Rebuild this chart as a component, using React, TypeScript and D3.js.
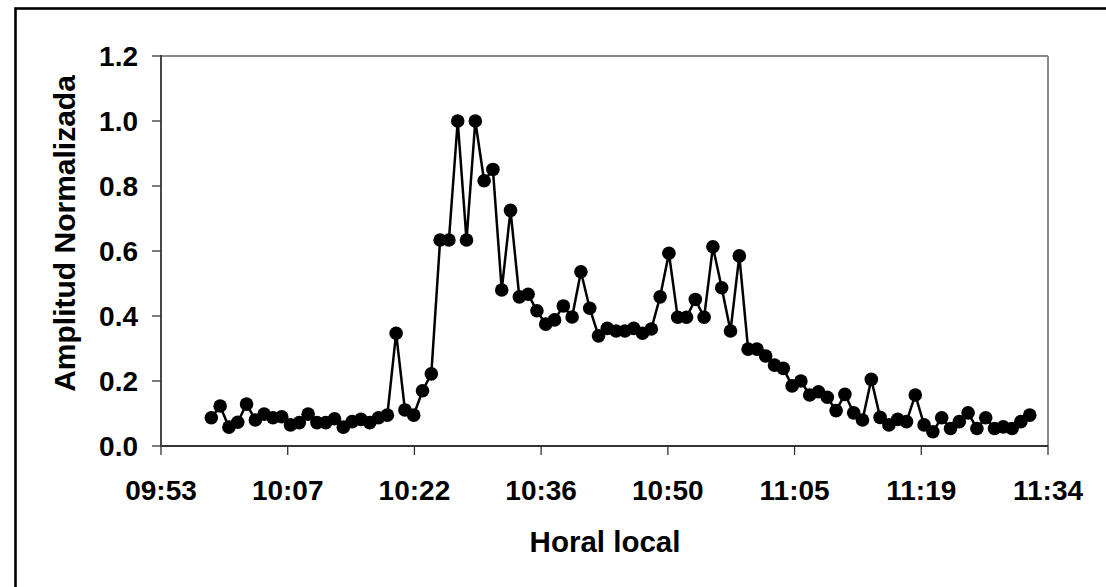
import React from "react";
import * as d3 from "d3";

const times: string[] = [
  "09:59","10:00","10:01","10:02","10:03","10:04","10:05","10:06","10:07","10:08",
  "10:09","10:10","10:11","10:12","10:13","10:14","10:15","10:16","10:17","10:18",
  "10:19","10:20","10:21","10:22","10:23","10:24","10:25","10:26","10:27","10:28",
  "10:29","10:30","10:31","10:32","10:33","10:34","10:35","10:36","10:37","10:38",
  "10:39","10:40","10:41","10:42","10:43","10:44","10:45","10:46","10:47","10:48",
  "10:49","10:50","10:51","10:52","10:53","10:54","10:55","10:56","10:57","10:58",
  "10:59","11:00","11:01","11:02","11:03","11:04","11:05","11:06","11:07","11:08",
  "11:09","11:10","11:11","11:12","11:13","11:14","11:15","11:16","11:17","11:18",
  "11:19","11:20","11:21","11:22","11:23","11:24","11:25","11:26","11:27","11:28",
  "11:29","11:30","11:31","11:32",
];

const amplitude: number[] = [
  0.087, 0.123, 0.058, 0.073, 0.129, 0.080, 0.098, 0.087, 0.090, 0.065,
  0.072, 0.098, 0.072, 0.072, 0.084, 0.058, 0.075, 0.082, 0.072, 0.087,
  0.095, 0.347, 0.111, 0.095, 0.170, 0.222, 0.634, 0.634, 1.0, 0.634,
  1.0, 0.816, 0.851, 0.480, 0.725, 0.459, 0.467, 0.416, 0.375, 0.388,
  0.431, 0.397, 0.536, 0.424, 0.339, 0.362, 0.354, 0.354, 0.362, 0.347,
  0.360, 0.459, 0.593, 0.396, 0.396, 0.451, 0.396, 0.613, 0.487, 0.354,
  0.585, 0.298, 0.298, 0.277, 0.249, 0.239, 0.185, 0.200, 0.157, 0.167,
  0.150, 0.109, 0.159, 0.102, 0.080, 0.205, 0.088, 0.065, 0.082, 0.075,
  0.157, 0.065, 0.044, 0.087, 0.054, 0.075, 0.102, 0.054, 0.087, 0.054,
  0.059, 0.054, 0.075, 0.095,
];

// Excel time-axis: day fractions
const xTickValues: number[] = [0.412, 0.422, 0.432, 0.442, 0.452, 0.462, 0.472, 0.482];
const xTickLabels: string[] = ["09:53", "10:07", "10:22", "10:36", "10:50", "11:05", "11:19", "11:34"];
const yTickValues: number[] = [0, 0.2, 0.4, 0.6, 0.8, 1.0, 1.2];

const W = 1106;
const H = 587;
const left = 161;
const right = 1048;
const top = 56;
const bottom = 446;
const FONT = "'Liberation Sans', Arial, Helvetica, sans-serif";

function toDayFraction(t: string): number {
  const [h, m] = t.split(":").map(Number);
  return (h * 60 + m) / 1440;
}

export default function App() {
  const x = d3.scaleLinear().domain([xTickValues[0], xTickValues[xTickValues.length - 1]]).range([left, right]);
  const y = d3.scaleLinear().domain([0, 1.2]).range([bottom, top]);

  const pts: [number, number][] = times.map((t, i) => [x(toDayFraction(t)), y(amplitude[i])]);
  const lineGen = d3.line<[number, number]>().x((d) => d[0]).y((d) => d[1]);

  return (
    <svg
      width={W}
      height={H}
      style={{ position: "absolute", left: 0, top: 0, background: "#fff" }}
      fontFamily={FONT}
    >
      <rect x={0} y={0} width={W} height={H} fill="#fff" />
      {/* outer border (extends beyond the view on right/bottom) */}
      <rect x={15.5} y={8.5} width={W + 20} height={H + 20} fill="none" stroke="#000" strokeWidth={2.6} />

      {/* plot area border */}
      <line x1={left} y1={top} x2={right} y2={top} stroke="#8a8a8a" strokeWidth={2} />
      <line x1={right} y1={top} x2={right} y2={bottom} stroke="#8a8a8a" strokeWidth={2} />

      {/* y axis */}
      <line x1={left} y1={top - 1} x2={left} y2={bottom} stroke="#333" strokeWidth={1.8} />
      {yTickValues.map((v) => (
        <g key={"y" + v}>
          <line x1={left - 9} x2={left} y1={y(v)} y2={y(v)} stroke="#333" strokeWidth={1.3} />
          <text
            x={138}
            y={y(v)}
            dy="0.36em"
            textAnchor="end"
            fontSize={28}
            fontWeight="bold"
            fill="#000"
          >
            {v.toFixed(1)}
          </text>
        </g>
      ))}

      {/* x axis */}
      <line x1={left} y1={bottom} x2={right} y2={bottom} stroke="#333" strokeWidth={1.8} />
      {xTickValues.map((v, i) => (
        <g key={"x" + v}>
          <line x1={x(v)} x2={x(v)} y1={bottom} y2={bottom + 9} stroke="#333" strokeWidth={1.3} />
          <text x={x(v)} y={500} textAnchor="middle" fontSize={28} fontWeight="bold" fill="#000">
            {xTickLabels[i]}
          </text>
        </g>
      ))}

      {/* series */}
      <path d={lineGen(pts) || ""} fill="none" stroke="#000" strokeWidth={2.5} strokeLinejoin="round" />
      {pts.map((p, i) => (
        <circle key={i} cx={p[0]} cy={p[1]} r={6.8} fill="#000" />
      ))}

      {/* axis titles */}
      <text x={605} y={552} textAnchor="middle" fontSize={29.5} fontWeight="bold" fill="#000">
        Horal local
      </text>
      <text
        transform={`translate(75,${(72 + 395) / 2}) rotate(-90)`}
        textAnchor="middle"
        fontSize={30}
        fontWeight="bold"
        fill="#000"
      >
        Amplitud Normalizada
      </text>
    </svg>
  );
}
